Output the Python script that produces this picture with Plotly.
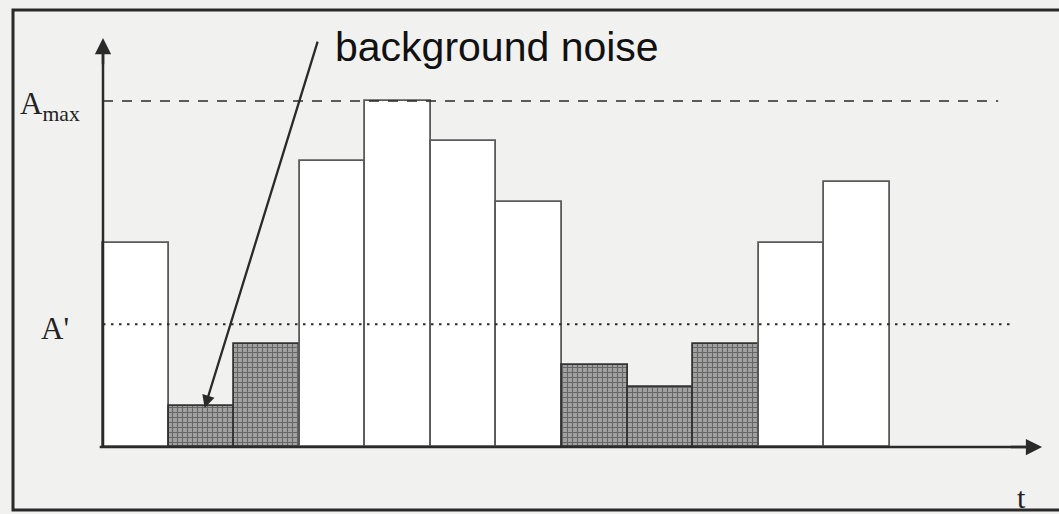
import plotly.graph_objects as go

# ---- data ----
bar_values = [5.90, 1.18, 2.98, 8.27, 10.0, 8.84, 7.08, 2.37, 1.73, 2.98, 5.90, 7.66]
is_noise = [False, True, True, False, False, False, False, True, True, True, False, False]
A_max = 10.0
A_star = 3.55
label_amax = "A<sub>max</sub>"
label_astar = "A'"
label_t = "t"
note_text = "background noise"
noise_bar_index = 1

# ---- styling / geometry ----
BG = "#f1f1f0"
DARK = "#2a2a2a"
n = len(bar_values)
xs = [i + 0.5 for i in range(n)]

fills = ["#a2a2a2" if s else "#ffffff" for s in is_noise]
shapes_pat = ["+" if s else "" for s in is_noise]
edge_cols = ["#333333" if s else "#5a5a5a" for s in is_noise]

fig = go.Figure()
fig.add_trace(go.Bar(
    x=xs, y=bar_values, width=1.0,
    marker=dict(
        color=fills,
        line=dict(color=edge_cols, width=1.8),
        pattern=dict(shape=shapes_pat, fgcolor="#505050", fgopacity=0.65,
                     size=5, solidity=0.4, fillmode="overlay"),
    ),
    hoverinfo="skip", showlegend=False,
))

x_end_axis = 14.32
y_end_axis = 11.82

# threshold lines
fig.add_shape(type="line", x0=0, x1=13.65, y0=A_max, y1=A_max,
              line=dict(color=DARK, width=1.6, dash="10px,9px"))
fig.add_shape(type="line", x0=0, x1=13.9, y0=A_star, y1=A_star,
              line=dict(color=DARK, width=2, dash="2.5px,5.5px"))

# axes lines
fig.add_shape(type="line", x0=0, x1=0, y0=-0.03, y1=y_end_axis - 0.3,
              line=dict(color=DARK, width=2.5))
fig.add_shape(type="line", x0=-0.05, x1=x_end_axis - 0.2, y0=0, y1=0,
              line=dict(color=DARK, width=2.5))

# arrowheads for axes
fig.add_annotation(x=0, y=y_end_axis, ax=0, ay=y_end_axis - 0.8,
                   xref="x", yref="y", axref="x", ayref="y",
                   showarrow=True, arrowhead=2, arrowsize=1.3, arrowwidth=2.5,
                   arrowcolor=DARK, text="")
fig.add_annotation(x=x_end_axis, y=0, ax=x_end_axis - 0.5, ay=0,
                   xref="x", yref="y", axref="x", ayref="y",
                   showarrow=True, arrowhead=2, arrowsize=1.3, arrowwidth=2.5,
                   arrowcolor=DARK, text="")

# background-noise pointer
fig.add_annotation(x=noise_bar_index + 0.55, y=bar_values[noise_bar_index] - 0.05,
                   ax=3.28, ay=11.76,
                   xref="x", yref="y", axref="x", ayref="y",
                   showarrow=True, arrowhead=2, arrowsize=1.1, arrowwidth=2.3,
                   arrowcolor=DARK, text="")
fig.add_annotation(x=3.5, y=11.55, xref="x", yref="y", text=note_text,
                   showarrow=False, xanchor="left", yanchor="middle",
                   font=dict(family="Liberation Sans, Arial", size=41, color="#111111"))

# labels
serif = "Liberation Serif, Times New Roman"
fig.add_annotation(x=-1.29, y=A_max - 0.15, xref="x", yref="y", text=label_amax,
                   showarrow=False, xanchor="left", yanchor="middle",
                   font=dict(family=serif, size=31, color="#222222"))
fig.add_annotation(x=-0.98, y=A_star - 0.12, xref="x", yref="y", text=label_astar,
                   showarrow=False, xanchor="left", yanchor="middle",
                   font=dict(family=serif, size=31, color="#222222"))
fig.add_annotation(x=14.0, y=-1.45, xref="x", yref="y", text=label_t,
                   showarrow=False, xanchor="center", yanchor="middle",
                   font=dict(family=serif, size=30, color="#222222"))

# outer frame (no right edge visible)
W, H = 1059, 514
fig.add_shape(type="rect", xref="paper", yref="paper",
              x0=13 / W, x1=1.02, y0=1 - 510 / H, y1=1 - 10 / H,
              line=dict(color=DARK, width=3), fillcolor="rgba(0,0,0,0)")

px_per_u = 65.58
px_per_v = 34.6
x0_px, y0_px = 103, 447
fig.update_layout(
    width=W, height=H,
    margin=dict(l=0, r=0, t=0, b=0, pad=0),
    paper_bgcolor=BG, plot_bgcolor=BG,
    bargap=0,
    xaxis=dict(range=[-x0_px / px_per_u, (W - x0_px) / px_per_u], visible=False, fixedrange=True),
    yaxis=dict(range=[(y0_px - H) / px_per_v, y0_px / px_per_v], visible=False, fixedrange=True),
)

fig.write_html("out.html", config={"displayModeBar": False},
               post_script="document.body.style.margin='0';document.body.style.overflow='hidden';document.body.style.background='%s';" % BG)
